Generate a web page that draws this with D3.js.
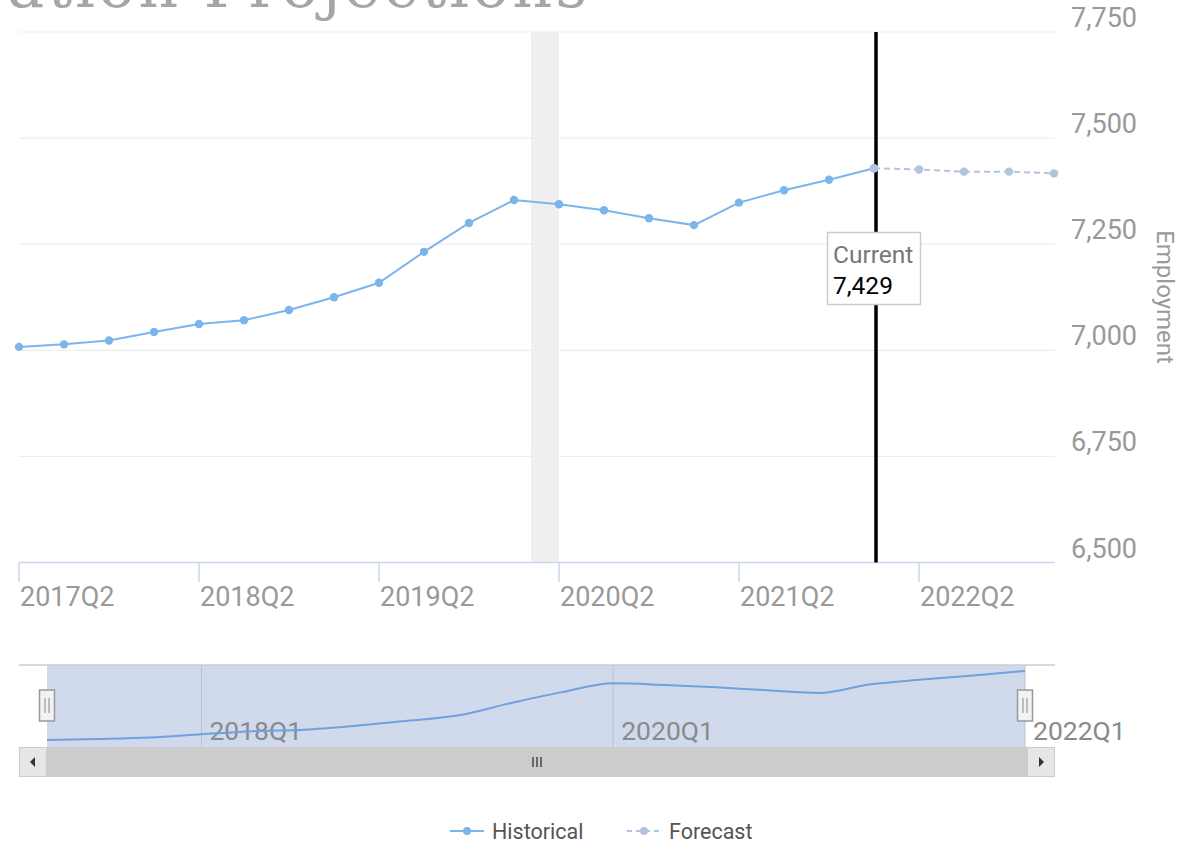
<!DOCTYPE html>
<html>
<head>
<meta charset="utf-8">
<script src="https://cdn.jsdelivr.net/npm/d3@7"></script>
<style>
  body { margin: 0; background: #fff; }
  svg { display: block; font-family: Roboto, "Noto Sans", sans-serif; }
</style>
</head>
<body>
<div id="chart"></div>
<script>
// data
var quarters = ["2017Q2", "2017Q3", "2017Q4", "2018Q1", "2018Q2", "2018Q3", "2018Q4", "2019Q1",
    "2019Q2", "2019Q3", "2019Q4", "2020Q1", "2020Q2", "2020Q3", "2020Q4", "2021Q1",
    "2021Q2", "2021Q3", "2021Q4", "2022Q1", "2022Q2", "2022Q3", "2022Q4", "2023Q1"];
var historical = [7008, 7014, 7023, 7043, 7062, 7071, 7095, 7125, 7159, 7232, 7300, 7354,
    7344, 7330, 7311, 7295, 7348, 7377, 7402, 7429];
var forecastStart = 19; // index of 2022Q1
var forecast = [7429, 7426, 7421, 7421, 7417];
var yTicks = [6500, 6750, 7000, 7250, 7500, 7750];
var xTickQuarters = ["2017Q2", "2018Q2", "2019Q2", "2020Q2", "2021Q2", "2022Q2"];
var navTickQuarters = ["2018Q1", "2020Q1", "2022Q1"];
var recessionBand = [11.38, 12]; // in quarter index
var currentIndex = 19;
var currentValue = 7429;

var W = 1182, H = 842;
var blue = "#7cb5ec", pale = "#b3c4de", grey = "#999999";

var svg = d3.select("#chart").append("svg").attr("width", W).attr("height", H);

//**********************Title (cut off at the top)**********************
svg.append("text")
    .attr("x", 590).attr("y", 7)
    .attr("text-anchor", "end")
    .style("font-family", "'DejaVu Serif', serif")
    .style("font-size", "62px")
    .style("letter-spacing", "3px")
    .attr("fill", "#a6a6a6")
    .text("Occupation Projections");

//**********************Main chart**********************
var x = d3.scaleLinear().domain([0, 23]).range([19, 1054]);
var y = d3.scaleLinear().domain([6500, 7750]).range([562.5, 32]);
var qi = function (q) { return quarters.indexOf(q); };

// plot band
svg.append("rect")
    .attr("x", x(recessionBand[0])).attr("y", y(7750))
    .attr("width", x(recessionBand[1]) - x(recessionBand[0]))
    .attr("height", y(6500) - y(7750))
    .attr("fill", "#efefef");

// grid
svg.append("g").selectAll("line").data(yTicks.slice(1)).enter().append("line")
    .attr("x1", 19).attr("x2", 1055)
    .attr("y1", d => y(d)).attr("y2", d => y(d))
    .attr("stroke", "#ededed").attr("stroke-width", 1.2);

// y labels on the right
svg.append("g").selectAll("text").data(yTicks).enter().append("text")
    .attr("x", 1071).attr("y", d => y(d) - 5)
    .attr("fill", grey).style("font-size", "27px")
    .text(d => d3.format(",")(d));

svg.append("text")
    .attr("transform", "translate(1157,297) rotate(90)")
    .attr("text-anchor", "middle")
    .attr("fill", grey).style("font-size", "24px")
    .text("Employment");

// x axis
var xAxis = svg.append("g");
xAxis.append("line")
    .attr("x1", 19).attr("x2", 1055).attr("y1", 562.5).attr("y2", 562.5)
    .attr("stroke", "#ccd6eb").attr("stroke-width", 1.5);
var xt = xAxis.selectAll("g.tick").data(xTickQuarters).enter().append("g")
    .attr("transform", d => "translate(" + x(qi(d)) + ",0)");
xt.append("line").attr("y1", 562.5).attr("y2", 582).attr("stroke", "#ccd6eb").attr("stroke-width", 1.5);
xt.append("text").attr("x", 1).attr("y", 606)
    .attr("fill", grey).style("font-size", "27px")
    .text(d => d);

// current marker line
svg.append("line")
    .attr("x1", x(currentIndex) + 2).attr("x2", x(currentIndex) + 2)
    .attr("y1", y(7750)).attr("y2", y(6500))
    .attr("stroke", "#000").attr("stroke-width", 3.5);

// historical series
var line = d3.line().x(d => x(d[0])).y(d => y(d[1]));
var histPts = historical.map((v, i) => [i, v]);
var fcPts = forecast.map((v, i) => [forecastStart + i, v]);

svg.append("path").datum(histPts)
    .attr("d", line).attr("fill", "none")
    .attr("stroke", blue).attr("stroke-width", 2);
svg.append("g").selectAll("circle").data(histPts).enter().append("circle")
    .attr("cx", d => x(d[0])).attr("cy", d => y(d[1])).attr("r", 4.2)
    .attr("fill", blue);

// forecast series
svg.append("path").datum(fcPts)
    .attr("d", line).attr("fill", "none")
    .attr("stroke", pale).attr("stroke-width", 2)
    .attr("stroke-dasharray", "6,4");
svg.append("g").selectAll("circle").data(fcPts).enter().append("circle")
    .attr("cx", d => x(d[0])).attr("cy", d => y(d[1])).attr("r", 4.2)
    .attr("fill", pale);

// "Current" label
var lab = svg.append("g").attr("transform", "translate(" + (x(currentIndex) - 47) + ",232)");
lab.append("rect").attr("x", 0.5).attr("y", 0.5).attr("width", 93).attr("height", 72)
    .attr("fill", "#fff").attr("stroke", "#cccccc").attr("stroke-width", 1.5);
lab.append("text").attr("x", 6).attr("y", 31)
    .attr("fill", "#777").style("font-size", "24.5px").text("Current");
lab.append("text").attr("x", 6).attr("y", 62)
    .attr("fill", "#000").style("font-size", "24.5px").text(d3.format(",")(currentValue));

//**********************Navigator**********************
var xn = d3.scaleLinear().domain([0, historical.length - 1]).range([47, 1025]);
var yn = d3.scaleLinear().domain(d3.extent(historical)).range([740, 671]);
var navTop = 665, navBottom = 747;

// selected range mask
svg.append("rect")
    .attr("x", xn(0)).attr("y", navTop)
    .attr("width", xn(historical.length - 1) - xn(0)).attr("height", navBottom - navTop)
    .attr("fill", "rgba(102,133,194,0.3)");

svg.append("line")
    .attr("x1", 19).attr("x2", 1055).attr("y1", navTop).attr("y2", navTop)
    .attr("stroke", "#cccccc").attr("stroke-width", 1.5);

var nt = svg.append("g").selectAll("g").data(navTickQuarters).enter().append("g")
    .attr("transform", d => "translate(" + xn(qi(d)) + ",0)");
nt.append("line").attr("y1", navTop).attr("y2", navBottom)
    .attr("stroke", "#b9c2d4").attr("stroke-width", 1);
nt.append("text").attr("x", 8).attr("y", 740)
    .attr("fill", "#8a8a8a").style("font-size", "26.5px").text(d => d);

svg.append("path").datum(histPts)
    .attr("d", d3.line().x(d => xn(d[0])).y(d => yn(d[1])).curve(d3.curveMonotoneX))
    .attr("fill", "none").attr("stroke", "#6fa1de").attr("stroke-width", 2);

// handles
var handles = svg.append("g").selectAll("g").data([0, historical.length - 1]).enter().append("g")
    .attr("transform", d => "translate(" + xn(d) + ",690)");
handles.append("rect").attr("x", -7.5).attr("y", 0).attr("width", 15).attr("height", 31)
    .attr("fill", "#f2f2f2").attr("stroke", "#999").attr("stroke-width", 1.5);
handles.append("path").attr("d", "M-2,8V23M2,8V23").attr("stroke", "#999").attr("stroke-width", 1.2);

// scrollbar
var sb = svg.append("g");
sb.append("rect").attr("x", 19).attr("y", 747).attr("width", 1036).attr("height", 30)
    .attr("fill", "#cccccc");
sb.selectAll("rect.btn").data([19, 1027]).enter().append("rect")
    .attr("x", d => d + 0.5).attr("y", 747.5).attr("width", 27).attr("height", 29)
    .attr("fill", "#e6e6e6").attr("stroke", "#cccccc");
sb.append("path").attr("d", "M30,762L35,757L35,767Z").attr("fill", "#333");
sb.append("path").attr("d", "M1044,762L1039,757L1039,767Z").attr("fill", "#333");
sb.append("path").attr("d", "M533,757V767M537,757V767M541,757V767")
    .attr("stroke", "#333").attr("stroke-width", 1.3);

//**********************Legend**********************
var legend = [{ name: "Historical", color: blue, dash: null, x: 450 },
    { name: "Forecast", color: pale, dash: "5,4", x: 627 }];
var lg = svg.append("g").selectAll("g").data(legend).enter().append("g")
    .attr("transform", d => "translate(" + d.x + ",831)");
lg.append("line").attr("x1", 0).attr("x2", 34)
    .attr("stroke", d => d.color).attr("stroke-width", 2)
    .attr("stroke-dasharray", d => d.dash);
lg.append("circle").attr("cx", 17).attr("r", 4).attr("fill", d => d.color);
lg.append("text").attr("x", 42).attr("y", 8)
    .attr("fill", "#555").style("font-size", "21.5px").text(d => d.name);
</script>
</body>
</html>
